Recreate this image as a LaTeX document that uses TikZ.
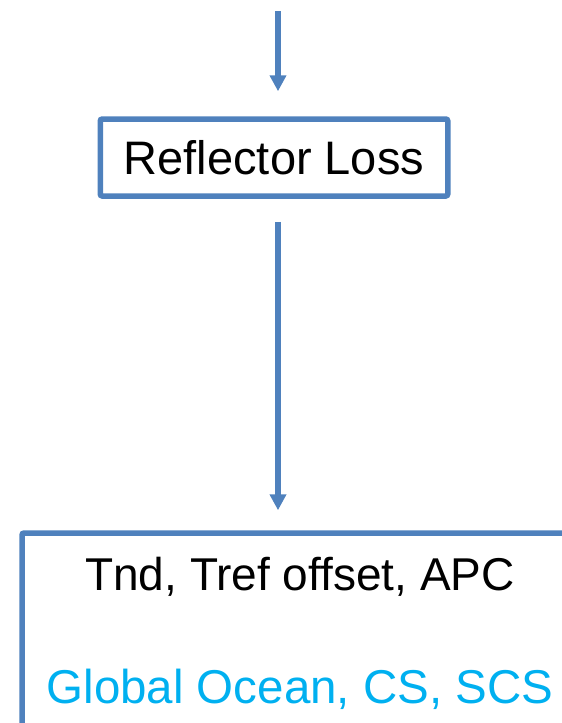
\documentclass[tikz,border=0pt]{standalone}
\usepackage{fontspec}
\setmainfont{Liberation Sans}
\usetikzlibrary{arrows.meta,calc}
\definecolor{boxblue}{HTML}{4F81BD}
\definecolor{oceancyan}{HTML}{00B0F0}

\begin{document}
\begin{tikzpicture}[x=1pt,y=-1pt,
  box/.style={draw=boxblue,line width=5.5pt,rounded corners=2pt,inner sep=0pt},
  flow/.style={draw=boxblue,line width=5.5pt,-{Triangle[width=16pt,length=16pt]}},
  txt/.style={font=\fontsize{46}{55}\selectfont,anchor=base}]
\useasboundingbox (0,0) rectangle (562,723);
\clip (0,0) rectangle (562,723);
\coordinate (top) at (278,11);
\node[box,minimum width=347.5pt,minimum height=77pt,font=\fontsize{47}{56}\selectfont] (loss) at (274,157.5) {Reflector Loss};
\node[box,minimum width=558pt,minimum height=227pt] (info) at (301,646.5) {};
\node[txt] (tnd) at (300,590) {Tnd, Tref offset, APC};
\node[txt,text=oceancyan,font=\fontsize{47.5}{57}\selectfont] (ocean) at (300,703) {Global Ocean, CS, SCS};
\draw[flow,shorten >=25pt] (top) -- (top |- loss.north);
\draw[flow,shorten <=23pt,shorten >=20pt] (loss.south -| top) -- (top |- info.north);
\end{tikzpicture}
\end{document}
